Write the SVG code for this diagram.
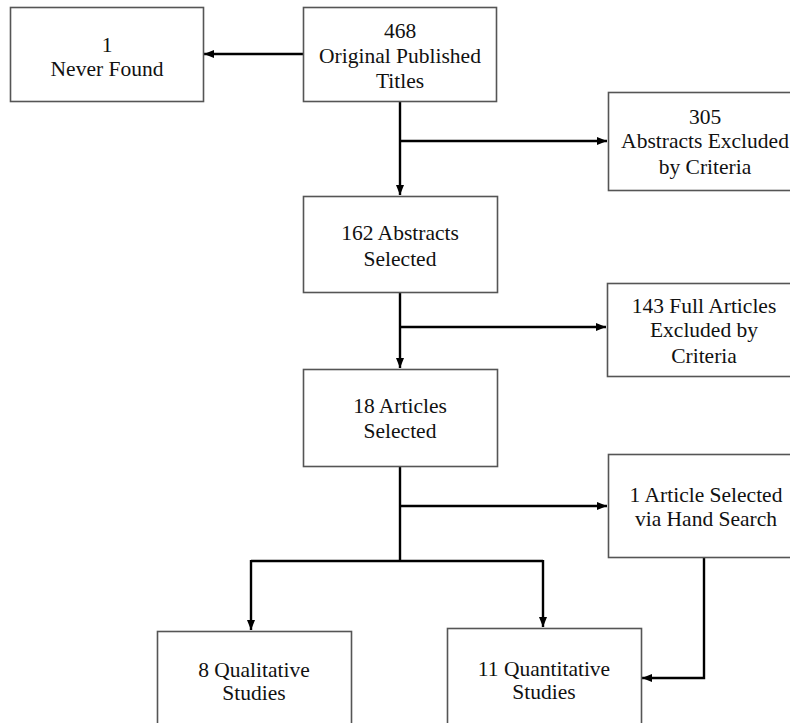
<svg xmlns="http://www.w3.org/2000/svg" width="790" height="723" viewBox="0 0 790 723">
<style>
.box{fill:#fff;stroke:#555;stroke-width:1.6}
.t{font-family:'Liberation Serif','Times New Roman',Times,'DejaVu Serif',serif;font-size:21.5px;fill:#111;text-anchor:middle}
.c{fill:none;stroke:#000;stroke-width:2.4}
</style>
<defs>
<marker id="ah" markerUnits="userSpaceOnUse" markerWidth="10" markerHeight="10" viewBox="0 0 10 10" refX="10" refY="5" orient="auto">
<path d="M0,1 L10,5 L0,9 Z" fill="#000"/>
</marker>
</defs>
<rect width="790" height="723" fill="#fff"/>
<g id="connectors">
<path class="c" d="M303,54 H204" marker-end="url(#ah)"/>
<path class="c" d="M400,101 V195" marker-end="url(#ah)"/>
<path class="c" d="M400,141 H607" marker-end="url(#ah)"/>
<path class="c" d="M400,292 V368" marker-end="url(#ah)"/>
<path class="c" d="M400,327 H606" marker-end="url(#ah)"/>
<path class="c" d="M400,466 V561"/>
<path class="c" d="M400,506 H607" marker-end="url(#ah)"/>
<path class="c" d="M251,561 H543"/>
<path class="c" d="M251,560 V630" marker-end="url(#ah)"/>
<path class="c" d="M543,560 V627" marker-end="url(#ah)"/>
<path class="c" d="M704,557 V678 H642" marker-end="url(#ah)"/>
</g>
<g id="never-found">
<rect class="box" x="10.5" y="7.5" width="193" height="94"/>
<text class="t" x="107" y="52">1</text>
<text class="t" x="107" y="76">Never Found</text>
</g>
<g id="original-titles">
<rect class="box" x="303.5" y="7.5" width="193" height="94"/>
<text class="t" x="400" y="38">468</text>
<text class="t" x="400" y="63">Original Published</text>
<text class="t" x="400" y="88">Titles</text>
</g>
<g id="abstracts-excluded">
<rect class="box" x="608.5" y="92.5" width="195" height="98"/>
<text class="t" x="705" y="124">305</text>
<text class="t" x="705" y="148">Abstracts Excluded</text>
<text class="t" x="705" y="174">by Criteria</text>
</g>
<g id="abstracts-selected">
<rect class="box" x="303.5" y="196.5" width="194" height="96"/>
<text class="t" x="400" y="240">162 Abstracts</text>
<text class="t" x="400" y="266">Selected</text>
</g>
<g id="full-excluded">
<rect class="box" x="607.5" y="283.5" width="196" height="93"/>
<text class="t" x="704" y="313">143 Full Articles</text>
<text class="t" x="704" y="337">Excluded by</text>
<text class="t" x="704" y="363">Criteria</text>
</g>
<g id="articles-selected">
<rect class="box" x="303.5" y="369.5" width="194" height="97"/>
<text class="t" x="400" y="413">18 Articles</text>
<text class="t" x="400" y="438">Selected</text>
</g>
<g id="hand-search">
<rect class="box" x="608.5" y="454.5" width="195" height="103"/>
<text class="t" x="706" y="502">1 Article Selected</text>
<text class="t" x="706" y="526">via Hand Search</text>
</g>
<g id="qualitative">
<rect class="box" x="157.5" y="631.5" width="194" height="110"/>
<text class="t" x="254" y="677">8 Qualitative</text>
<text class="t" x="254" y="700">Studies</text>
</g>
<g id="quantitative">
<rect class="box" x="447.5" y="628.5" width="194" height="113"/>
<text class="t" x="544" y="676">11 Quantitative</text>
<text class="t" x="544" y="699">Studies</text>
</g>
</svg>
